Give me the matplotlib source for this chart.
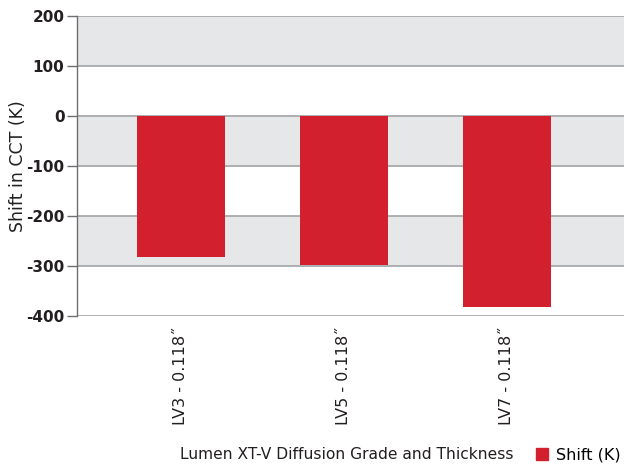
import numpy as np
from matplotlib import pyplot as plt
from matplotlib.patches import Patch

plt.rcParams['font.family'] = ['DejaVu Sans']

# data
grades = ['LV3 - 0.118\u02DD', 'LV5 - 0.118\u02DD', 'LV7 - 0.118\u02DD']
shift = [-282, -298, -382]
yticks = [200, 100, 0, -100, -200, -300, -400]

red = '#D2202F'
band = '#E6E7E9'
grid = '#A7A9AC'
txt = '#231F20'

fig = plt.figure(figsize=(6.24, 4.68), dpi=100)
ax = fig.add_axes([0.1234, 0.3248, 0.8766, 0.641])

x = np.arange(len(grades))
ax.bar(x, shift, width=0.54, color=red, zorder=3)

# alternating grey bands
for lo in range(-400, 200, 100):
    if (lo // 100) % 2 == 1:
        ax.axhspan(lo, lo + 100, color=band, zorder=0, lw=0)
for y in yticks:
    ax.axhline(y, color=grid, lw=1.3, zorder=1)

ax.set_ylim(-400, 200)
ax.set_xlim(-0.637, 2.72)
ax.set_yticks(yticks)
ax.set_yticklabels([str(v) for v in yticks], fontsize=11, fontweight='bold', color=txt)
ax.set_xticks(x)
ax.set_xticklabels(grades, rotation=90, fontsize=11.5, color=txt)
ax.tick_params(axis='x', length=0, pad=8)
ax.tick_params(axis='y', length=7, width=1, color='#6D6E71', pad=2)

for s in ['top', 'right', 'bottom']:
    ax.spines[s].set_visible(False)
ax.spines['left'].set_color('#6D6E71')
ax.spines['left'].set_linewidth(1)

fig.text(18 / 624, 0.645, 'Shift in CCT (K)', rotation=90, ha='center', va='center',
         fontsize=12.5, color=txt)
fig.text(0.555, 0.028, 'Lumen XT-V Diffusion Grade and Thickness', ha='center', va='center',
         fontsize=11.2, color=txt)
fig.legend(handles=[Patch(color=red, label='Shift (K)')], loc='center right',
           bbox_to_anchor=(1.012, 0.028), frameon=False, fontsize=11.5,
           handlelength=0.75, handleheight=0.75, handletextpad=0.5, borderaxespad=0.3)

plt.savefig('out.png', dpi=100)
